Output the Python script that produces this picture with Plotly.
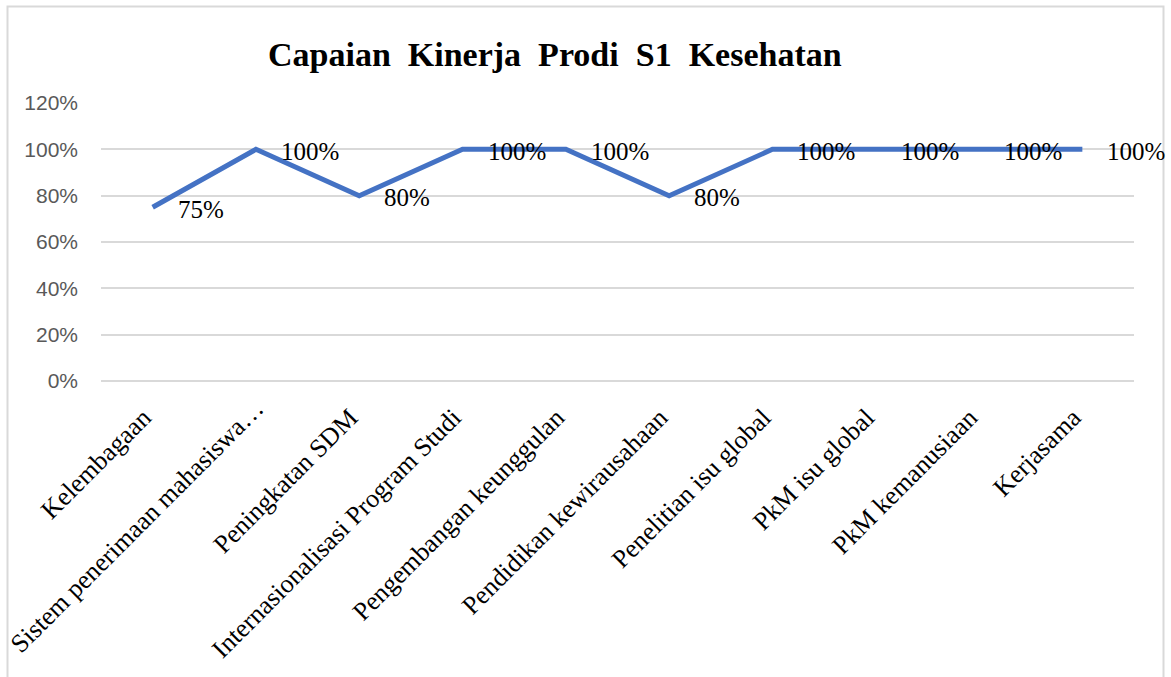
import plotly.graph_objects as go

categories = [
    "Kelembagaan",
    "Sistem penerimaan mahasiswa…",
    "Peningkatan SDM",
    "Internasionalisasi Program Studi",
    "Pengembangan keunggulan",
    "Pendidikan kewirausahaan",
    "Penelitian isu global",
    "PkM isu global",
    "PkM kemanusiaan",
    "Kerjasama",
]
values = [0.75, 1.00, 0.80, 1.00, 1.00, 0.80, 1.00, 1.00, 1.00, 1.00]
y_ticks = [0, 0.2, 0.4, 0.6, 0.8, 1.0, 1.2]
title_text = "Capaian Kinerja Prodi S1 Kesehatan"

W, H = 1171, 677
L, R, T, B = 101, 37, 103, 296
PW, PH = W - L - R, H - T - B

SERIF = "Liberation Serif"

fig = go.Figure()
fig.add_trace(go.Scatter(
    x=categories, y=values, mode="lines",
    line=dict(color="#4472C4", width=5),
    hoverinfo="skip", showlegend=False,
))

for c, v in zip(categories, values):
    fig.add_annotation(
        x=c, y=v, text=f"{v:.0%}", showarrow=False,
        xanchor="left", yanchor="middle", xshift=23, yshift=-2,
        font=dict(family=SERIF, size=25, color="#000000"),
    )

fig.add_annotation(
    xref="paper", yref="paper",
    x=(555 - L) / PW, y=1 + (T - 55) / PH,
    text="\u00a0\u00a0".join(title_text.split(" ")),
    showarrow=False, xanchor="center", yanchor="middle",
    font=dict(family=SERIF, size=34, color="#000000", weight="bold"),
)

# chart border
fig.add_shape(
    type="rect", xref="paper", yref="paper",
    x0=(7.5 - L) / PW, x1=(1163.5 - L) / PW,
    y0=-(B + 20) / PH, y1=1 + (T - 6.5) / PH,
    line=dict(color="#D9D9D9", width=2), fillcolor="rgba(0,0,0,0)", layer="below",
)

fig.update_layout(
    width=W, height=H, autosize=False,
    margin=dict(l=L, r=R, t=T, b=B, autoexpand=False),
    paper_bgcolor="white", plot_bgcolor="white",
    showlegend=False,
)
tick_text = [c if c.endswith("…") else c + "\u00a0\u00a0" for c in categories]
fig.update_xaxes(
    type="category", range=[-0.5, len(categories) - 0.5],
    tickmode="array", tickvals=categories, ticktext=tick_text,
    tickangle=-45, showgrid=False, showline=False, zeroline=False, ticks="",
    tickfont=dict(family=SERIF, size=26, color="#000000"),
    automargin=False, ticklabelstandoff=6,
)
fig.update_yaxes(
    range=[0, 1.2], tickvals=y_ticks, tickformat=".0%",
    showgrid=True, gridcolor="#D9D9D9", gridwidth=1.5,
    zeroline=True, zerolinecolor="#D9D9D9", zerolinewidth=1.5,
    showline=False, ticks="",
    tickfont=dict(family="Liberation Sans", size=21, color="#595959"),
    automargin=False, ticklabelstandoff=22,
)

fig.write_html("out.html", config={"displayModeBar": False},
               post_script="document.body.style.margin='0';")
